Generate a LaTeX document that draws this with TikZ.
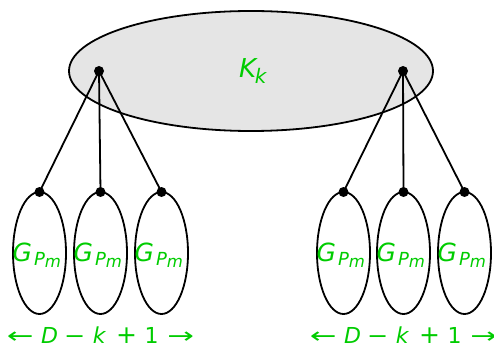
\documentclass[tikz,border=0pt]{standalone}
\usepackage{fontspec}
\setmainfont{DejaVu Sans}
\usepackage{graphicx}
\usetikzlibrary{shapes.geometric}
\definecolor{lblgreen}{RGB}{0,204,0}
\definecolor{bigfill}{RGB}{229,229,229}
\newcommand{\fs}[1]{\fontsize{#1}{#1}\selectfont}
\newcommand{\gpmlabel}{{\fs{25}\textit{G}}\hspace{2pt}\raisebox{-4pt}{\fs{18}\textit{P}\raisebox{-2pt}{\fs{16.5}\textit{m}}}}
\newcommand{\kklabel}{{\fs{26}\textit{K}}\hspace{-3pt}\raisebox{-6pt}{\fs{20}\textit{k}}}
\newcommand{\placeat}[2]{\makebox[0pt][l]{\hspace{#1}\makebox[0pt]{#2}}}
\newcommand{\rangelabel}{\fs{22}\placeat{19.5pt}{\scalebox{1.45}[1]{←}}\placeat{49pt}{\textit{D}}\placeat{74pt}{\scalebox{1.15}[1]{−}}\placeat{99pt}{\textit{k}}\placeat{126pt}{\fs{25}+}\placeat{151pt}{1}\placeat{180pt}{\scalebox{1.45}[1]{→}}\hspace{194pt}}
\begin{document}
\begin{tikzpicture}[x=1pt,y=-1pt,
  bigell/.style={draw=black,line width=1.8pt,fill=bigfill,ellipse,minimum width=364pt,minimum height=120pt,inner sep=0pt},
  smallell/.style={draw=black,line width=1.8pt,ellipse,minimum width=53pt,minimum height=122pt,inner sep=0pt},
  dotnode/.style={circle,fill=black,inner sep=0pt,minimum size=10pt},
  lbl/.style={text=lblgreen,inner sep=0pt,anchor=base west},
  conn/.style={line width=1.8pt}]
\useasboundingbox (0,0) rectangle (494,347);
\node[bigell] (K) at (251,71) {};
\node[lbl] (Klbl) at (239,78) {\kklabel};
\node[dotnode] (kl) at (99,71) {};
\node[dotnode] (kr) at (403,71) {};
\foreach \n/\x in {a/39.5,b/100.5,c/161.5,d/343.5,e/403.5,f/464.5}{
  \node[smallell] (e\n) at (\x,253) {};
  \node[lbl] (g\n) at (\x-27,261) {\gpmlabel};
  \node[dotnode] (d\n) at (\x,192) {};
}
\foreach \n in {a,b,c}{\draw[conn] (kl.center) -- (d\n.center);}
\foreach \n in {d,e,f}{\draw[conn] (kr.center) -- (d\n.center);}
\node[lbl] (rl) at (0,343) {\rangelabel};
\node[lbl] (rr) at (303,343) {\rangelabel};
\end{tikzpicture}
\end{document}
